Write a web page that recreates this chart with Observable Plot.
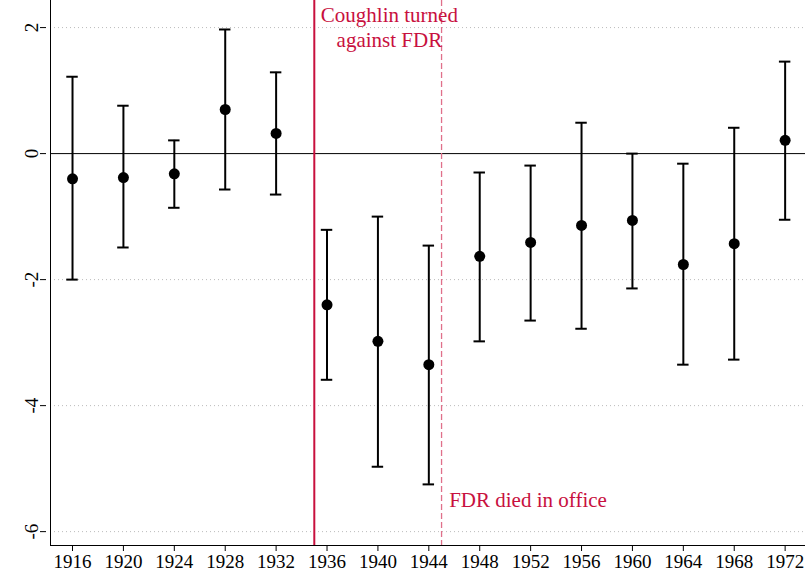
<!DOCTYPE html>
<html><head>
<script src="https://cdn.jsdelivr.net/npm/d3@7"></script>
<script src="https://cdn.jsdelivr.net/npm/@observablehq/plot@0.6"></script>
<style>body{margin:0;background:#fff}</style>
</head><body><div id="c"></div>
<script>
const years = [1916,1920,1924,1928,1932,1936,1940,1944,1948,1952,1956,1960,1964,1968,1972];
const est   = [-0.40,-0.38,-0.32,0.70,0.32,-2.40,-2.98,-3.35,-1.63,-1.41,-1.14,-1.06,-1.76,-1.43,0.21];
const hi    = [1.22,0.76,0.21,1.97,1.29,-1.21,-1.00,-1.46,-0.30,-0.19,0.49,0.00,-0.16,0.41,1.46];
const lo    = [-2.00,-1.49,-0.86,-0.57,-0.65,-3.59,-4.97,-5.25,-2.98,-2.65,-2.78,-2.14,-3.35,-3.27,-1.05];
const yTicks = [-6,-4,-2,0,2];
const data = years.map((y,i)=>({year:y, est:est[i], hi:hi[i], lo:lo[i]}));
const red = "#c8103e";
const cap = 0.45;
const chart = Plot.plot({
  width:805, height:579,
  marginLeft:50, marginRight:0, marginTop:0, marginBottom:34,
  style:{fontFamily:"Liberation Serif", fontSize:"18px", color:"#000"},
  x:{type:"linear", domain:[1914.27,1973.6]},
  y:{type:"linear", domain:[-6.22,2.43]},
  marks:[
    Plot.ruleY([-6,-4,-2,2],{stroke:"#bbb", strokeDasharray:"1,3"}),
    Plot.ruleY([0],{stroke:"#000", strokeWidth:1}),
    Plot.ruleX([1935],{stroke:red, strokeWidth:2}),
    Plot.ruleX([1945],{stroke:"#e0708a", strokeWidth:1.3, strokeDasharray:"6,3"}),
    Plot.ruleX(data,{x:"year", y1:"lo", y2:"hi", stroke:"#000", strokeWidth:2}),
    Plot.ruleY(data,{y:"hi", x1:d=>d.year-cap, x2:d=>d.year+cap, stroke:"#000", strokeWidth:2}),
    Plot.ruleY(data,{y:"lo", x1:d=>d.year-cap, x2:d=>d.year+cap, stroke:"#000", strokeWidth:2}),
    Plot.dot(data,{x:"year", y:"est", r:5.5, fill:"#000"}),
    Plot.axisX({ticks:years, tickFormat:d=>String(d), tickSize:6, fontSize:19, label:null}),
    Plot.axisY({ticks:yTicks, tickFormat:d=>String(d), tickSize:6, tickRotate:-90, fontSize:19, label:null, textAnchor:"middle", dx:-4}),
    Plot.ruleX([1914.27],{stroke:"#000"}),
    Plot.ruleY([-6.22],{stroke:"#000"}),
    Plot.text(["Coughlin turned", "against FDR"],{x:[1940.9,1940.9], y:[2.2,1.8], text:d=>d, fill:red, fontSize:21}),
    Plot.text(["FDR died in office"],{x:[1945.6], y:[-5.5], text:d=>d, fill:red, fontSize:21, textAnchor:"start"})
  ]
});
document.getElementById("c").append(chart);
</script></body></html>
